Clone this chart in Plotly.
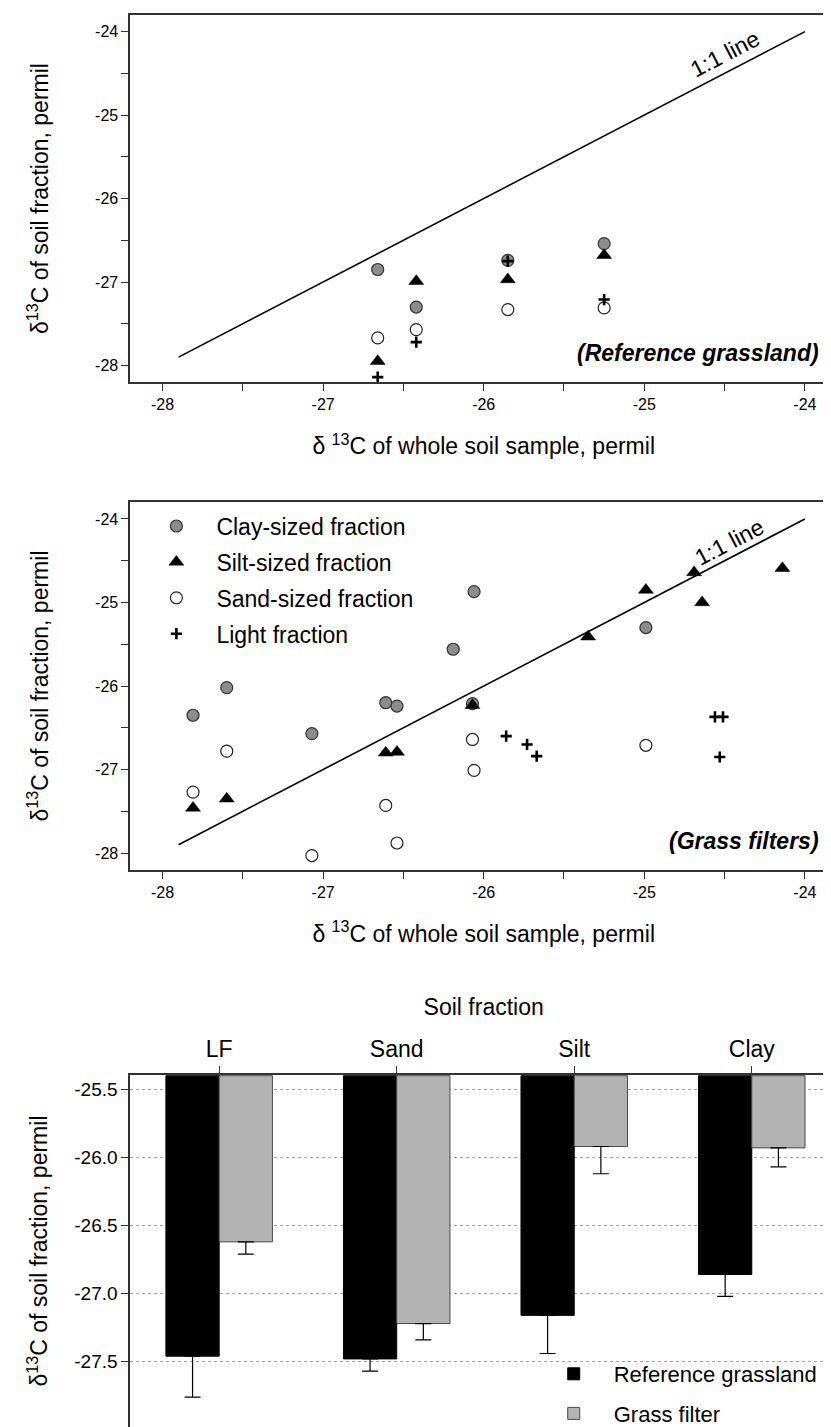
import plotly.graph_objects as go

# ---------------- data ----------------
# Panel 1: Reference grassland (x = whole soil, y = fraction)
ref_whole = [-26.66, -26.42, -25.85, -25.25]
ref_clay = [-26.85, -27.30, -26.74, -26.54]
ref_silt = [-27.95, -26.99, -26.97, -26.68]
ref_sand = [-27.67, -27.57, -27.33, -27.31]
ref_light = [-28.14, -27.72, -26.75, -27.21]

# Panel 2: Grass filters
gf_clay_x = [-27.81, -27.60, -27.07, -26.61, -26.54, -26.19, -26.06, -26.07, -24.99]
gf_clay_y = [-26.35, -26.02, -26.57, -26.20, -26.24, -25.56, -24.87, -26.21, -25.30]
gf_silt_x = [-27.81, -27.60, -26.61, -26.54, -26.07, -25.35, -24.99, -24.69, -24.64, -24.14]
gf_silt_y = [-27.46, -27.35, -26.80, -26.79, -26.23, -25.41, -24.85, -24.64, -25.00, -24.59]
gf_sand_x = [-27.81, -27.60, -27.07, -26.61, -26.54, -26.07, -26.06, -24.99]
gf_sand_y = [-27.27, -26.78, -28.03, -27.43, -27.88, -26.64, -27.01, -26.71]
gf_light_x = [-25.86, -25.73, -25.67, -24.56, -24.51, -24.53]
gf_light_y = [-26.60, -26.70, -26.84, -26.37, -26.37, -26.85]

one_to_one = [-27.9, -24.0]

scatter_ticks = [-28, -27, -26, -25, -24]
scatter_ticktext = ["-28", "-27", "-26", "-25", "-24"]

# Panel 3: bar chart
fractions = ["LF", "Sand", "Silt", "Clay"]
ref_mean = [-27.46, -27.48, -27.16, -26.86]
ref_err = [0.30, 0.09, 0.28, 0.16]
gf_mean = [-26.62, -27.22, -25.92, -25.93]
gf_err = [0.09, 0.12, 0.20, 0.14]
bar_base = -25.4
bar_ticks = [-25.5, -26.0, -26.5, -27.0, -27.5]
bar_ticktext = ["-25.5", "-26.0", "-26.5", "-27.0", "-27.5"]

# ---------------- styles ----------------
FONT = "Liberation Sans, Arial, sans-serif"
FRAME = "#333333"
W, H = 831, 1427

def py(p):  # pixel from top -> paper y
    return 1 - p / H

X0 = 122.7 / W

styles = {
    "clay": dict(name="Clay-sized fraction", symbol="circle", size=12,
                 color="#8c8c8c", line=dict(color="#333333", width=1.2), rank=1),
    "silt": dict(name="Silt-sized fraction", symbol="triangle-up", size=13,
                 color="black", line=dict(color="black", width=0.5), rank=2),
    "sand": dict(name="Sand-sized fraction", symbol="circle", size=12,
                 color="white", line=dict(color="#222222", width=1.2), rank=3),
    "light": dict(name="Light fraction", symbol="cross-thin", size=8,
                  color="black", line=dict(color="black", width=2.6), rank=4),
}

fig = go.Figure()

def add_pts(key, x, y, xa, ya, show):
    s = styles[key]
    fig.add_trace(go.Scatter(
        x=x, y=y, mode="markers", name=s["name"], legendgroup=key,
        legendrank=s["rank"], showlegend=show, xaxis=xa, yaxis=ya,
        marker=dict(symbol=s["symbol"], size=s["size"], color=s["color"], line=s["line"]),
    ))

for xa, ya in (("x", "y"), ("x2", "y2")):
    fig.add_trace(go.Scatter(x=one_to_one, y=one_to_one, mode="lines", showlegend=False,
                             line=dict(color="black", width=1.6), xaxis=xa, yaxis=ya,
                             hoverinfo="skip"))

# panel 1
add_pts("clay", ref_whole, ref_clay, "x", "y", False)
add_pts("sand", ref_whole, ref_sand, "x", "y", False)
add_pts("silt", ref_whole, ref_silt, "x", "y", False)
add_pts("light", ref_whole, ref_light, "x", "y", False)
# panel 2
add_pts("clay", gf_clay_x, gf_clay_y, "x2", "y2", True)
add_pts("sand", gf_sand_x, gf_sand_y, "x2", "y2", True)
add_pts("silt", gf_silt_x, gf_silt_y, "x2", "y2", True)
add_pts("light", gf_light_x, gf_light_y, "x2", "y2", True)

# panel 3 bars (hanging from the top of the axis)
fig.add_trace(go.Bar(
    x=fractions, y=[v - bar_base for v in ref_mean], base=bar_base,
    name="Reference grassland", xaxis="x3", yaxis="y3", legend="legend2",
    legendgroup="refbar",
    marker=dict(color="black", line=dict(color="black", width=1)),
    error_y=dict(type="data", symmetric=False, array=[0] * len(ref_err),
                 arrayminus=ref_err, color="black", thickness=1.2, width=8),
))
fig.add_trace(go.Bar(
    x=fractions, y=[v - bar_base for v in gf_mean], base=bar_base,
    name="Grass filter", xaxis="x3", yaxis="y3", legend="legend2",
    legendgroup="gfbar",
    marker=dict(color="#b3b3b3", line=dict(color="#4a4a4a", width=1)),
    error_y=dict(type="data", symmetric=False, array=[0] * len(gf_err),
                 arrayminus=gf_err, color="black", thickness=1.2, width=8),
))

tickfont_s = dict(family=FONT, size=16, color="black")
title_font = dict(family=FONT, size=23, color="black")
xtitle = "\u03b4 <sup>13</sup>C of whole soil sample, permil"
ytitle = "\u03b4<sup>13</sup>C of soil fraction, permil"

def scatter_x(domain_anchor):
    return dict(domain=[X0, 1], range=[-28.2, -23.8], anchor=domain_anchor,
                tickvals=scatter_ticks, ticktext=scatter_ticktext, tickfont=tickfont_s,
                ticks="outside", ticklen=7, tickwidth=1.3, tickcolor=FRAME,
                minor=dict(dtick=0.5, tick0=-28, ticks="outside", ticklen=7, tickwidth=1.3,
                           tickcolor=FRAME, showgrid=False),
                showline=True, linecolor=FRAME, linewidth=2, mirror=True,
                showgrid=False, zeroline=False,
                title=dict(text=xtitle, font=title_font, standoff=26))

def scatter_y(dom, anchor):
    return dict(domain=dom, range=[-28.2, -23.8], anchor=anchor,
                tickvals=scatter_ticks, ticktext=scatter_ticktext, tickfont=tickfont_s,
                ticks="outside", ticklen=7, tickwidth=1.3, tickcolor=FRAME,
                minor=dict(dtick=0.5, tick0=-28, ticks="outside", ticklen=7, tickwidth=1.3,
                           tickcolor=FRAME, showgrid=False),
                showline=True, linecolor=FRAME, linewidth=2, mirror=True,
                showgrid=False, zeroline=False,
                title=dict(text=ytitle, font=title_font, standoff=40))

fig.update_layout(
    width=W, height=H, margin=dict(l=0, r=0, t=0, b=0),
    paper_bgcolor="white", plot_bgcolor="white",
    font=dict(family=FONT, color="black"),
    xaxis=scatter_x("y"),
    yaxis=scatter_y([py(376), py(7)], "x"),
    xaxis2=scatter_x("y2"),
    yaxis2=scatter_y([py(866), py(496.7)], "x2"),
    xaxis3=dict(domain=[X0, 1], anchor="y3", side="top", range=[-0.5, 3.48],
                type="category", ticks="outside", ticklen=7, tickwidth=1.3, tickcolor=FRAME,
                tickfont=dict(family=FONT, size=23, color="black"),
                showline=True, linecolor=FRAME, linewidth=2, mirror=True,
                title=dict(text="Soil fraction", font=title_font, standoff=14)),
    yaxis3=dict(domain=[py(1426), py(1072.3)], anchor="x3", range=[-27.98, -25.395],
                tickvals=bar_ticks, ticktext=bar_ticktext,
                tickfont=dict(family=FONT, size=19, color="black"),
                ticks="outside", ticklen=7, tickwidth=1.3, tickcolor=FRAME,
                showline=True, linecolor=FRAME, linewidth=2, mirror=True,
                showgrid=True, gridcolor="#a0a0a0", griddash="dot", gridwidth=1,
                zeroline=False,
                title=dict(text=ytitle, font=title_font, standoff=20)),
    bargap=0.4, bargroupgap=0, barmode="group",
    legend=dict(x=128.7 / W, y=py(499), xanchor="left", yanchor="top",
                bgcolor="rgba(0,0,0,0)", itemwidth=70, tracegroupgap=3,
                font=dict(family=FONT, size=23, color="black"),
                traceorder="grouped"),
    legend2=dict(x=527 / W, y=py(1352), xanchor="left", yanchor="top",
                 bgcolor="rgba(0,0,0,0)", itemwidth=70, tracegroupgap=8,
                 traceorder="grouped",
                 font=dict(family=FONT, size=22, color="black")),
    annotations=[
        dict(text="1:1 line", x=-24.5, y=-24.27, xref="x", yref="y", showarrow=False,
             textangle=-27.5, font=dict(family=FONT, size=23, color="black")),
        dict(text="1:1 line", x=-24.47, y=-24.27, xref="x2", yref="y2", showarrow=False,
             textangle=-27.5, font=dict(family=FONT, size=23, color="black")),
        dict(text="<b><i>(Reference grassland)</i></b>", x=-23.9, y=-27.85, xref="x",
             yref="y", xanchor="right", showarrow=False,
             font=dict(family=FONT, size=23, color="black")),
        dict(text="<b><i>(Grass filters)</i></b>", x=-23.9, y=-27.85, xref="x2",
             yref="y2", xanchor="right", showarrow=False,
             font=dict(family=FONT, size=23, color="black")),
    ],
)

fig.write_html("out.html")
